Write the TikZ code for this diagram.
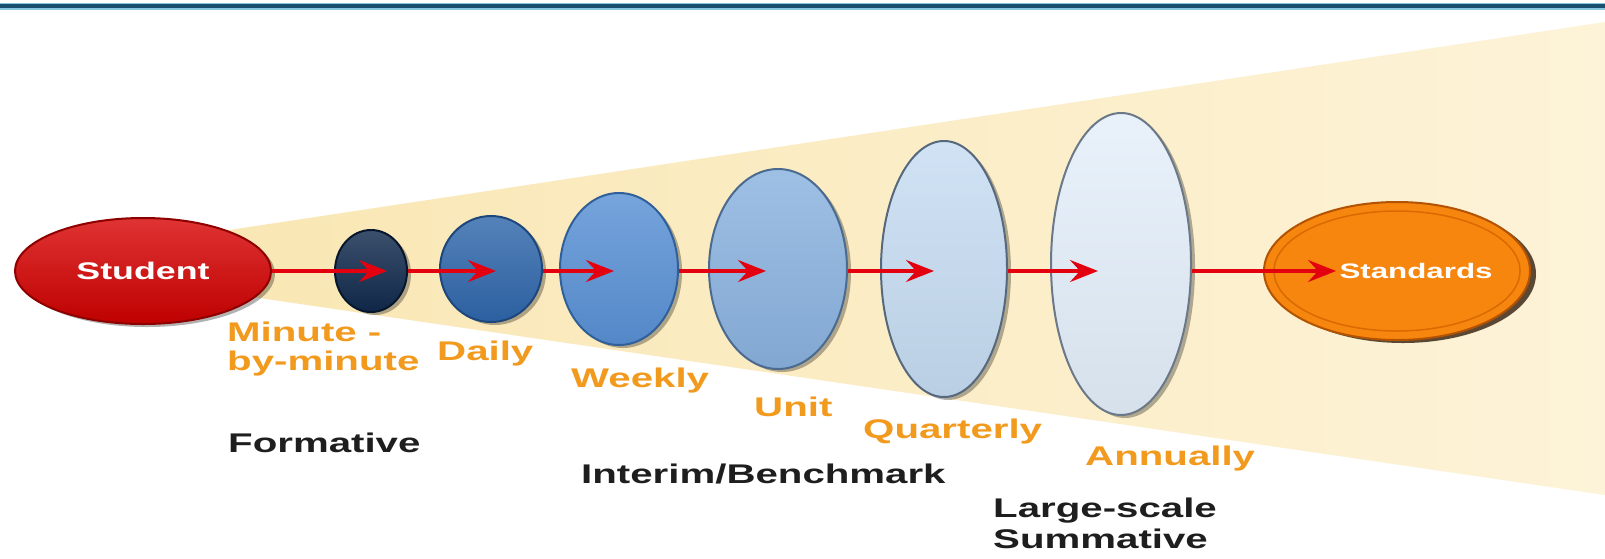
\documentclass[tikz,border=0pt]{standalone}
\usepackage{fontspec}
\setmainfont{Liberation Sans}
\usetikzlibrary{arrows.meta,shadows,shapes.geometric}
\definecolor{topdark}{HTML}{1B4F6E}
\definecolor{toplight}{HTML}{86C6DF}
\definecolor{coneA}{HTML}{F9E6B2}
\definecolor{coneB}{HTML}{FDF3D8}
\definecolor{stured}{HTML}{D80000}
\definecolor{stuedge}{HTML}{8E0000}
\definecolor{stdorange}{HTML}{F7860F}
\definecolor{stdedge}{HTML}{B35200}
\definecolor{stdinner}{HTML}{D96A00}
\definecolor{arrred}{HTML}{E3000F}
\definecolor{lblorange}{HTML}{F29A1E}
\definecolor{lblblack}{HTML}{1E1E1E}
\definecolor{bA}{HTML}{10294C}\definecolor{bAe}{HTML}{07162C}
\definecolor{bB}{HTML}{2F66AA}\definecolor{bBe}{HTML}{1D477C}
\definecolor{bC}{HTML}{5890D4}\definecolor{bCe}{HTML}{30609A}
\definecolor{bD}{HTML}{8AB2DF}\definecolor{bDe}{HTML}{4A6A90}
\definecolor{bE}{HTML}{C6DCF2}\definecolor{bEe}{HTML}{56687E}
\definecolor{bF}{HTML}{E4EFFA}\definecolor{bFe}{HTML}{6A7888}
\newcommand{\stxt}[1]{\scalebox{1.49}[1]{#1}}
\begin{document}
\begin{tikzpicture}[x=1pt,y=-1pt,
  blob/.style={ellipse, inner sep=0pt, line width=2pt,
    drop shadow={shadow xshift=4pt,shadow yshift=-3pt,opacity=0.3,fill=black}},
  glossy/.style={draw=#1e, top color=#1!82!white, middle color=#1, bottom color=#1!94!black},
  arr/.style={draw=arrred, line width=3.6pt, -{Stealth[length=28pt,width=22pt,inset=10pt]}},
  olbl/.style={anchor=west, inner sep=0pt, text=lblorange, font=\fontsize{27}{29}\selectfont\bfseries},
  klbl/.style={anchor=west, inner sep=0pt, text=lblblack, font=\fontsize{27}{31}\selectfont\bfseries},
]
\useasboundingbox (0,0) rectangle (1605,558);
\fill[white] (0,0) rectangle (1605,558);
\shade[left color=coneA, right color=coneB] (150,242) -- (1605,22) -- (1605,495) -- (150,282) -- cycle;
\draw[toplight, line width=7pt] (0,6) -- (1605,6);
\draw[topdark, line width=3.5pt] (0,6) -- (1605,6);

\node[blob, minimum width=256pt, minimum height=106pt, draw=stuedge,
  top color=stured!80!white, middle color=stured, bottom color=stured!88!black,
  text=white, font=\fontsize{24}{28}\selectfont\bfseries] (student) at (143,271) {\stxt{Student}};

\node[blob, glossy=bA, minimum width=72pt, minimum height=82pt] (e1) at (371,271) {};
\node[blob, glossy=bB, minimum width=102pt, minimum height=106pt] (e2) at (491,269) {};
\node[blob, glossy=bC, minimum width=118pt, minimum height=152pt] (e3) at (619,269) {};
\node[blob, glossy=bD, minimum width=138pt, minimum height=200pt] (e4) at (778,269) {};
\node[blob, glossy=bE, minimum width=126pt, minimum height=256pt] (e5) at (944,269) {};
\node[blob, glossy=bF, minimum width=140pt, minimum height=302pt] (e6) at (1121,264) {};

\node[ellipse, inner sep=0pt, line width=2pt, minimum width=266pt, minimum height=138pt,
  draw=stdedge, fill=stdorange,
  drop shadow={shadow xshift=6pt,shadow yshift=-3pt,opacity=0.75,fill=black!80!stdedge}] (standards) at (1397,271) {};
\node[ellipse, inner sep=0pt, draw=stdinner, line width=1.5pt, minimum width=246pt, minimum height=120pt] (stdring) at (standards.center) {};
\node[text=white, inner sep=0pt, font=\fontsize{21}{25}\selectfont\bfseries] (stdtext) at (1416,271) {\stxt{Standards}};

\coordinate (t1) at (387,271);
\coordinate (t2) at (496,271);
\coordinate (t3) at (614,271);
\coordinate (t4) at (766,271);
\coordinate (t5) at (934,271);
\coordinate (t6) at (1098,271);
\coordinate (t7) at (1336,271);
\draw[arr] (student.east) -- (t1);
\draw[arr] (e1.east) -- (t2);
\draw[arr] (e2.east |- t3) -- (t3);
\draw[arr] (e3.east |- t4) -- (t4);
\draw[arr] (e4.east |- t5) -- (t5);
\draw[arr] (e5.east |- t6) -- (t6);
\draw[arr] (e6.east |- t7) -- (t7);

\node[olbl] (minute) at (227,350) {\stxt{\begin{tabular}{@{}l@{}}Minute -\\by-minute\end{tabular}}};
\node[olbl] (daily) at (437,354) {\stxt{Daily}};
\node[olbl] (weekly) at (571,381) {\stxt{Weekly}};
\node[olbl] (unit) at (754,407) {\stxt{Unit}};
\node[olbl] (quarterly) at (863,432) {\stxt{Quarterly}};
\node[olbl] (annually) at (1085,459) {\stxt{Annually}};
\node[klbl] (formative) at (228,443) {\stxt{Formative}};
\node[klbl] (interim) at (581,474) {\stxt{Interim/Benchmark}};
\node[klbl] (summative) at (993,527) {\stxt{\begin{tabular}{@{}l@{}}Large-scale\\Summative\end{tabular}}};
\end{tikzpicture}
\end{document}
